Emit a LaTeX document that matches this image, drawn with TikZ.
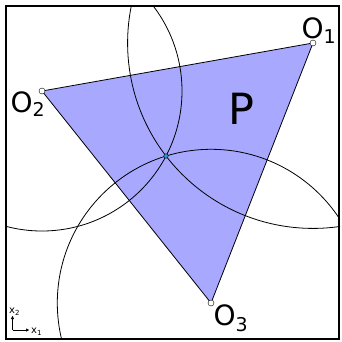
\documentclass[tikz,border=0pt]{standalone}
\usepackage{fontspec}
\setmainfont{DejaVu Sans}
\usetikzlibrary{arrows.meta}
\definecolor{polyblue}{RGB}{168,168,255}
\definecolor{meetblue}{RGB}{40,150,220}
\newcommand{\vlab}[2]{O\raisebox{#2}{\fontsize{19}{19}\selectfont #1}}
\newcommand{\axlab}[1]{x\raisebox{-2pt}{\fontsize{7}{7}\selectfont #1}}
\begin{document}
\begin{tikzpicture}[x=1pt,y=-1pt,
    vertex/.style={circle,draw,fill=white,inner sep=0pt,minimum size=6pt},
    meet/.style={circle,draw,fill=meetblue,inner sep=0pt,minimum size=4.5pt},
    lab/.style={anchor=base west,inner sep=0pt,font=\fontsize{28}{28}\selectfont},
    axarrow/.style={-{Latex[length=3.5pt,width=3.5pt]},line width=0.6pt}]
    \useasboundingbox (0,0) rectangle (342,341);
    \coordinate (O1) at (313,43);
    \coordinate (O2) at (42,91);
    \coordinate (O3) at (211,303);
    \coordinate (X) at (166,156);
    \fill [polyblue] (O1) -- (O2) -- (O3) -- cycle;
    % circles through X
    \begin{scope}
        \clip (6,6) rectangle (339,339);
        \draw [line width=0.8pt] (O1) circle [radius=185.4pt];
        \draw [line width=0.8pt] (O2) circle [radius=140pt];
        \draw [line width=0.8pt] (O3) circle [radius=153.7pt];
    \end{scope}
    \draw [line width=0.8pt] (O1) -- (O2) -- (O3) -- cycle;
    \draw [line width=2pt] (6,6) rectangle (339,339);
    \node [vertex] (v1) at (O1) {};
    \node [vertex] (v2) at (O2) {};
    \node [vertex] (v3) at (O3) {};
    \node [meet] (m) at (X) {};
    % labels
    \node [lab] (l1) at (301.5,38) {\vlab{1}{-5pt}};
    \node [lab] (l2) at (10.5,112) {\vlab{2}{-4.5pt}};
    \node [lab] (l3) at (213.5,325) {\vlab{3}{-6pt}};
    \node [lab,font=\fontsize{43}{43}\selectfont] (p) at (228,124) {P};
    % axes
    \coordinate (ax) at (12.5,330);
    \coordinate (axup) at (12.5,315.5);
    \coordinate (axright) at (29.5,330);
    \draw [axarrow] (ax) -- (axup);
    \draw [axarrow] (ax) -- (axright);
    \node [lab,font=\fontsize{10}{10}\selectfont] (x2) at (9,313) {\axlab{2}};
    \node [lab,font=\fontsize{10}{10}\selectfont] (x1) at (31,333.5) {\axlab{1}};
\end{tikzpicture}
\end{document}
